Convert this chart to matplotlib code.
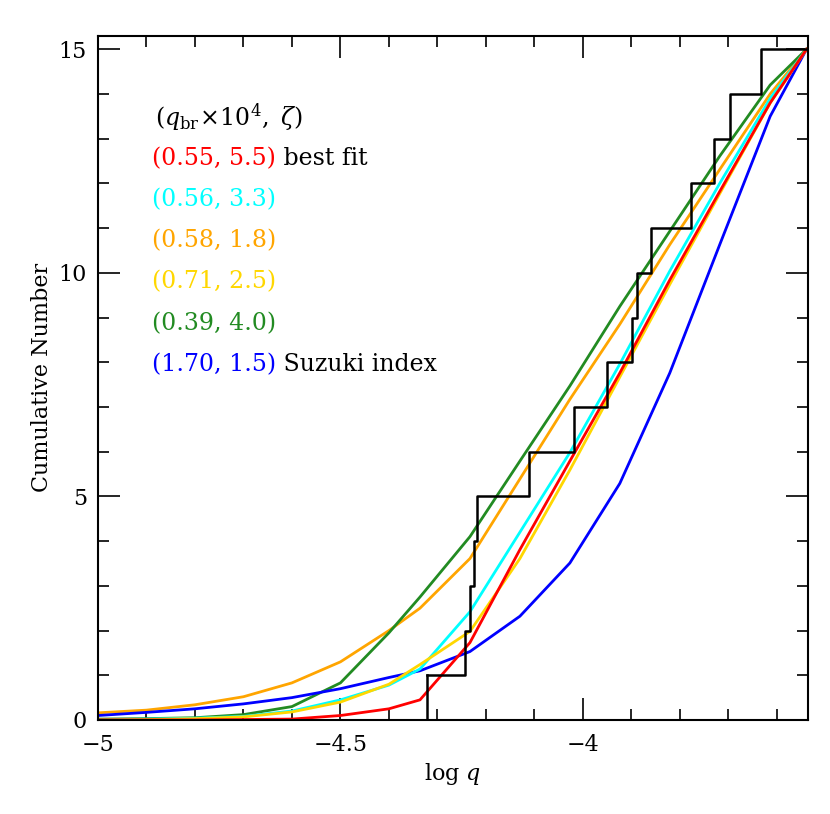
import numpy as np
import matplotlib
matplotlib.use("Agg")
import matplotlib.pyplot as plt
from matplotlib.ticker import MultipleLocator

plt.rcParams["font.family"] = "DejaVu Serif"
plt.rcParams["mathtext.fontset"] = "dejavuserif"

# observed cumulative distribution (step edges)
step_x = [-4.322, -4.243, -4.232, -4.225, -4.218, -4.112, -4.019, -3.950,
          -3.898, -3.888, -3.860, -3.778, -3.730, -3.697, -3.632, -3.539]
step_n = [1, 2, 3, 4, 5, 6, 7, 8, 9, 10, 11, 12, 13, 14, 15, 15]

# model curves
curve_x = [-5.0, -4.9, -4.8, -4.7, -4.6, -4.5, -4.4, -4.336, -4.233, -4.130,
           -4.027, -3.924, -3.821, -3.718, -3.614, -3.539]
green = [0.02, 0.03, 0.05, 0.12, 0.3, 0.83, 1.95, 2.75, 4.10, 5.79, 7.47, 9.25, 10.93, 12.61, 14.2, 15]
orange = [0.16, 0.22, 0.34, 0.52, 0.83, 1.3, 2.0, 2.5, 3.61, 5.39, 7.17, 8.85, 10.63, 12.31, 14.0, 15]
cyan = [0.0, 0.02, 0.04, 0.08, 0.2, 0.45, 0.78, 1.14, 2.42, 4.20, 5.98, 7.96, 10.04, 12.0, 13.9, 15]
red = [0.0, 0.0, 0.0, 0.01, 0.02, 0.1, 0.25, 0.45, 1.73, 3.81, 5.79, 7.76, 9.84, 11.82, 13.8, 15]
yellow = [0.0, 0.01, 0.03, 0.07, 0.18, 0.4, 0.8, 1.24, 1.98, 3.61, 5.59, 7.67, 9.74, 11.77, 13.8, 15]
blue = [0.1, 0.17, 0.25, 0.36, 0.5, 0.7, 0.95, 1.1, 1.53, 2.32, 3.51, 5.29, 7.76, 10.63, 13.5, 15]

labels = ["(0.55, 5.5)", "(0.56, 3.3)", "(0.58, 1.8)", "(0.71, 2.5)", "(0.39, 4.0)", "(1.70, 1.5)"]
extras = [" best fit", "", "", "", "", " Suzuki index"]
colors = ["#ff0000", "#00ffff", "#ffa500", "#ffd700", "#228b22", "#0000ff"]

fig = plt.figure(figsize=(8.3, 8.14), dpi=100)
ax = fig.add_axes([0.118, 0.1155, 0.8555, 0.8405])

for ys, c in [(orange, colors[2]), (green, colors[4]), (blue, colors[5]),
              (cyan, colors[1]), (yellow, colors[3]), (red, colors[0])]:
    ax.plot(curve_x, ys, color=c, lw=2)

ax.step(step_x, step_n, where="post", color="black", lw=1.8)
ax.plot([step_x[0], step_x[0]], [0, step_n[0]], color="black", lw=1.8)

ax.set_xlim(-5, -3.536)
ax.set_ylim(0, 15.3)
ax.xaxis.set_minor_locator(MultipleLocator(0.1))
ax.yaxis.set_major_locator(MultipleLocator(5))
ax.yaxis.set_minor_locator(MultipleLocator(1))
ax.set_xticks([-5, -4.5, -4])
ax.set_xticklabels(["\u22125", "\u22124.5", "\u22124"])
ax.tick_params(which="both", direction="in", top=True, right=True, labelsize=16, width=1.2)
ax.tick_params(which="major", length=16)
ax.tick_params(which="minor", length=8)
ax.tick_params(axis="x", pad=10)
ax.tick_params(axis="y", pad=8)
for s in ax.spines.values():
    s.set_linewidth(1.5)

ax.set_xlabel(r"log $q$", fontsize=16)
ax.set_ylabel("Cumulative Number", fontsize=16)

ty0 = 117
ax.text(155 / 830, 1 - ty0 / 814, r"$(q_{\rm br}\!\times\!10^4,\ \zeta)$", transform=fig.transFigure,
        fontsize=17, va="center")
for i, (lab, ex, c) in enumerate(zip(labels, extras, colors)):
    yp = ty0 + 41.3 * (i + 1)
    t = ax.text(152 / 830, 1 - yp / 814, lab, transform=fig.transFigure, color=c, fontsize=17, va="center")
    if ex:
        ax.annotate(ex, xy=(1, 0.5), xycoords=t, va="center", fontsize=17, color="black")

fig.savefig("out.png", dpi=100)
